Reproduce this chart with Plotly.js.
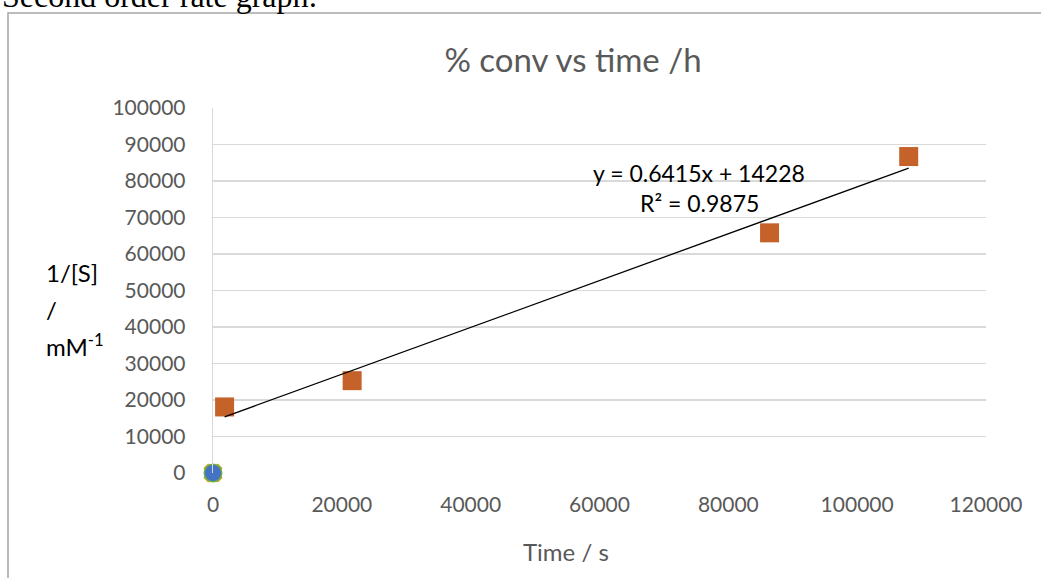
<!DOCTYPE html>
<html>
<head>
<meta charset="utf-8">
<script src="https://cdn.plot.ly/plotly-3.0.1.min.js"></script>
<style>
html,body{margin:0;padding:0;background:#fff;overflow:hidden;}
#chart{width:1041px;height:578px;}
</style>
</head>
<body>
<div id="chart"></div>
<script>
// Data
const timeS = [1800, 21600, 86400, 108000];
const invS = [18100, 25300, 65800, 86700];
const originX = [0];
const originY = [0];
const trendSlope = 0.6415;
const trendIntercept = 14228;
const trendR2 = 0.9875;
const xTicks = [0, 20000, 40000, 60000, 80000, 100000, 120000];
const yTicks = [0, 10000, 20000, 30000, 40000, 50000, 60000, 70000, 80000, 90000, 100000];
const yTitleLines = ['1/[S]', '/', 'mM<sup>-1</sup>'];

const xMin = Math.min(...timeS), xMax = Math.max(...timeS);
const trendX = [xMin, xMax];
const trendY = trendX.map(x => trendSlope * x + trendIntercept);

const font = 'Lato, "Open Sans", sans-serif';
const grey = '#595959';
const PW = 773, PH = 365, PT = 108, PL = 213;
const px = x => (x - PL) / PW;
const py = y => (PT + PH - y) / PH;

const traces = [
  {x: originX, y: originY, mode: 'markers', type: 'scatter', cliponaxis: false,
   marker: {symbol: 'x', size: 17, color: '#D4A017'}, hoverinfo: 'skip'},
  {x: originX, y: originY, mode: 'markers', type: 'scatter', cliponaxis: false,
   marker: {symbol: 'circle', size: 19, color: '#70AD47'}, hoverinfo: 'skip'},
  {x: originX, y: originY, mode: 'markers', type: 'scatter', cliponaxis: false,
   marker: {symbol: 'circle', size: 16, color: '#4472C4'}},
  {x: timeS, y: invS, mode: 'markers', type: 'scatter', cliponaxis: false,
   marker: {symbol: 'square', size: 19, color: '#C4622A'}},
  {x: trendX, y: trendY, mode: 'lines', type: 'scatter',
   line: {color: '#000', width: 1.3}, hoverinfo: 'skip'}
];

const annotations = [
  {text: 'y = ' + trendSlope + 'x + ' + trendIntercept, xref: 'x', yref: 'y',
   x: 75500, y: 82200, showarrow: false, font: {family: font, size: 23, color: '#000'}},
  {text: 'R² = ' + trendR2, xref: 'x', yref: 'y',
   x: 75500, y: 74000, showarrow: false, font: {family: font, size: 23, color: '#000'}},
  {text: 'Time / s', xref: 'paper', yref: 'paper', x: px(566), y: py(551),
   xanchor: 'center', yanchor: 'middle', showarrow: false,
   font: {family: font, size: 24, color: grey}},
  {text: 'Second order rate graph:', xref: 'paper', yref: 'paper',
   x: px(0), y: py(-4), xanchor: 'left', yanchor: 'middle', showarrow: false,
   align: 'left', font: {family: '"Liberation Serif", "DejaVu Serif", serif', size: 32, color: '#000'}}
];
const yTitleY = [272, 309, 345];
yTitleLines.forEach((t, i) => annotations.push({
  text: t, xref: 'paper', yref: 'paper', x: px(44), y: py(yTitleY[i]),
  xanchor: 'left', yanchor: 'middle', showarrow: false,
  font: {family: font, size: 24, color: '#000'}
}));

const layout = {
  width: 1041, height: 578,
  paper_bgcolor: '#fff', plot_bgcolor: '#fff',
  showlegend: false,
  margin: {l: PL, r: 1041 - PL - PW, t: PT, b: 578 - PT - PH},
  font: {family: font, color: grey},
  title: {text: '% conv vs time /h', font: {family: font, size: 33, color: grey},
          x: 573 / 1041, xanchor: 'center', xref: 'container', y: 1 - 60 / 578, yanchor: 'middle'},
  xaxis: {range: [0, 120000], tickvals: xTicks, ticktext: xTicks.map(String),
          showgrid: false, zeroline: false, showline: false,
          ticks: 'outside', ticklen: 0, ticklabelstandoff: 13,
          tickfont: {family: font, size: 21, color: grey}},
  yaxis: {range: [0, 100000], tickvals: yTicks, ticktext: yTicks.map(String),
          showgrid: true, gridcolor: '#d9d9d9', gridwidth: 1.3,
          zeroline: false, showline: true, linecolor: '#d9d9d9', linewidth: 1.3,
          ticks: 'outside', ticklen: 0, ticklabelstandoff: 22,
          tickfont: {family: font, size: 21, color: grey}},
  shapes: [
    {type: 'rect', xref: 'paper', yref: 'paper',
     x0: px(8), x1: 1.2, y0: -0.5, y1: py(13),
     line: {color: '#a6a6a6', width: 1.5}, fillcolor: 'rgba(0,0,0,0)', layer: 'below'}
  ],
  annotations: annotations
};

Plotly.newPlot('chart', traces, layout, {displayModeBar: false, staticPlot: true});
</script>
</body>
</html>
